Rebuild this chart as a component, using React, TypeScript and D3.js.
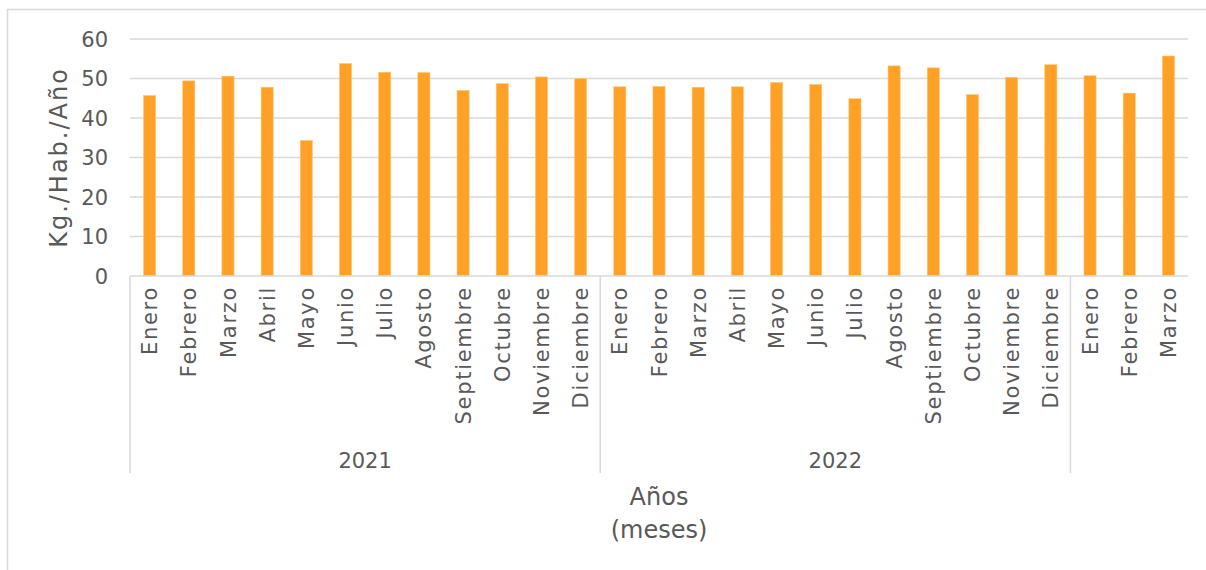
import * as d3 from 'd3';
import React, { useEffect, useRef } from 'react';

const months = [
    'Enero', 'Febrero', 'Marzo', 'Abril', 'Mayo', 'Junio', 'Julio', 'Agosto',
    'Septiembre', 'Octubre', 'Noviembre', 'Diciembre',
    'Enero', 'Febrero', 'Marzo', 'Abril', 'Mayo', 'Junio', 'Julio', 'Agosto',
    'Septiembre', 'Octubre', 'Noviembre', 'Diciembre',
    'Enero', 'Febrero', 'Marzo',
];
const years = ['2021', '2022', ''];
const groupSizes = [12, 12, 3];
const values = [
    45.7, 49.4, 50.6, 47.8, 34.3, 53.8, 51.6, 51.5, 47.0, 48.7, 50.4, 50.0,
    47.9, 48.0, 47.8, 47.9, 49.0, 48.5, 44.9, 53.2, 52.7, 45.9, 50.3, 53.5,
    50.7, 46.3, 55.7,
];
const yTicks = [0, 10, 20, 30, 40, 50, 60];

const W = 1206;
const H = 570;
const m = { top: 39, right: 18, bottom: 294, left: 130 };
const FONT = '"DejaVu Sans", sans-serif';
const TEXT = '#595959';
const GRID = '#d9d9d9';

const App = () => {
    const svgRef = useRef<SVGSVGElement | null>(null);

    useEffect(() => {
        const svg = d3.select(svgRef.current);
        svg.selectAll('*').remove();

        const idx = values.map((_, i) => String(i));
        const x = d3
            .scaleBand()
            .domain(idx)
            .range([m.left, W - m.right])
            .paddingInner(0.69)
            .paddingOuter(0.345);
        const y = d3
            .scaleLinear()
            .domain([0, 60])
            .range([H - m.bottom, m.top]);
        const y0 = y(0);

        // outer frame
        svg.append('path')
            .attr('d', `M7.5,${H + 5}V9.5H${W + 5}`)
            .attr('fill', 'none')
            .attr('stroke', GRID)
            .attr('stroke-width', 1.5);

        // gridlines
        svg.append('g')
            .selectAll('line')
            .data(yTicks.filter((t) => t > 0))
            .join('line')
            .attr('x1', m.left)
            .attr('x2', W - m.right)
            .attr('y1', (d) => y(d))
            .attr('y2', (d) => y(d))
            .attr('stroke', GRID)
            .attr('stroke-width', 1.5);

        // y tick labels
        svg.append('g')
            .selectAll('text')
            .data(yTicks)
            .join('text')
            .attr('x', 108)
            .attr('y', (d) => y(d))
            .attr('dy', '0.36em')
            .attr('text-anchor', 'end')
            .attr('fill', TEXT)
            .style('font', `21px ${FONT}`)
            .text((d) => d);

        // bars
        svg.append('g')
            .selectAll('rect')
            .data(values)
            .join('rect')
            .attr('x', (_, i) => x(String(i)) as number)
            .attr('width', x.bandwidth())
            .attr('y', (d) => y(d))
            .attr('height', (d) => y0 - y(d))
            .attr('fill', '#ffa126')
            .attr('stroke', '#ffc978')
            .attr('stroke-width', 0.6);

        // x axis line
        svg.append('line')
            .attr('x1', m.left)
            .attr('x2', W - m.right)
            .attr('y1', y0)
            .attr('y2', y0)
            .attr('stroke', GRID)
            .attr('stroke-width', 1.5);

        // month labels
        const step = x.step();
        svg.append('g')
            .selectAll('text')
            .data(months)
            .join('text')
            .attr(
                'transform',
                (_, i) =>
                    `translate(${(x(String(i)) as number) + x.bandwidth() / 2},${y0 + 10}) rotate(-90)`,
            )
            .attr('dy', '0.36em')
            .attr('text-anchor', 'end')
            .attr('fill', TEXT)
            .style('font', `21px ${FONT}`)
            .style('letter-spacing', '1.7px')
            .text((d) => d);

        // group separators and year labels
        let start = 0;
        const sepBottom = 473;
        groupSizes.forEach((n, gi) => {
            const x0 = m.left + start * step;
            svg.append('line')
                .attr('x1', x0)
                .attr('x2', x0)
                .attr('y1', y0)
                .attr('y2', sepBottom)
                .attr('stroke', GRID)
                .attr('stroke-width', 1.5);
            if (years[gi]) {
                svg.append('text')
                    .attr('x', x0 + (n * step) / 2)
                    .attr('y', 460)
                    .attr('dy', '0.36em')
                    .attr('text-anchor', 'middle')
                    .attr('fill', TEXT)
                    .style('font', `21px ${FONT}`)
                    .text(years[gi]);
            }
            start += n;
        });

        // axis titles
        const cx = (m.left + W - m.right) / 2;
        svg.append('text')
            .attr('x', cx)
            .attr('y', 497)
            .attr('dy', '0.35em')
            .attr('text-anchor', 'middle')
            .attr('fill', TEXT)
            .style('font', `24px ${FONT}`)
            .text('Años');
        svg.append('text')
            .attr('x', cx)
            .attr('y', 530)
            .attr('dy', '0.35em')
            .attr('text-anchor', 'middle')
            .attr('fill', TEXT)
            .style('font', `24px ${FONT}`)
            .text('(meses)');

        svg.append('text')
            .attr('transform', `translate(59,${(m.top + y0) / 2}) rotate(-90)`)
            .attr('dy', '0.35em')
            .attr('text-anchor', 'middle')
            .attr('fill', TEXT)
            .style('font', `24px ${FONT}`)
            .style('letter-spacing', '2px')
            .text('Kg./Hab./Año');
    }, []);

    return (
        <svg
            ref={svgRef}
            width={W}
            height={H}
            style={{ position: 'absolute', left: 0, top: 0, background: '#fff' }}
        />
    );
};

export default App;
